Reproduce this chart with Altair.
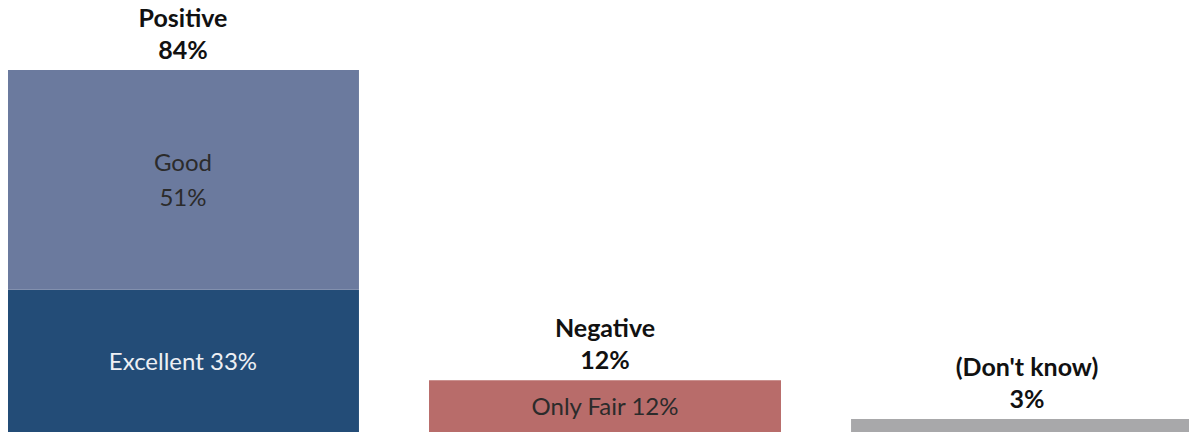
import altair as alt
import pandas as pd

categories = ["Positive", "Negative", "(Don't know)"]
totals = [84, 12, 3]
top_names = ["Positive", "Negative", "(Don't know)"]
top_pcts = ["84%", "12%", "3%"]

seg_group = ["Positive", "Positive", "Negative", "(Don't know)"]
seg_name = ["Excellent", "Good", "Only Fair", "Don't know"]
seg_value = [33, 51, 12, 3]
seg_label = ["Excellent 33%", "Good\n51%", "Only Fair 12%", ""]
seg_color = ["#234c77", "#6b7a9e", "#b86c6a", "#a8a8aa"]
seg_text_color = ["#eef0f4", "#2b2b2b", "#2b2b2b", "#2b2b2b"]

rows = []
lines = []
base = {}
for g, n, v, l in zip(seg_group, seg_name, seg_value, seg_label):
    y0 = base.get(g, 0)
    mid = y0 + v / 2
    rows.append({"group": g, "name": n, "value": v, "y0": y0, "y1": y0 + v})
    parts = [p for p in l.split("\n") if p]
    for i, p in enumerate(parts):
        k = i - (len(parts) - 1) / 2
        lines.append({"group": g, "name": n, "text": p, "mid": mid, "k": k})
    base[g] = y0 + v
seg = pd.DataFrame(rows)
seg_lines = pd.DataFrame(lines)
tops = pd.DataFrame({"group": categories, "total": totals, "name": top_names, "pct": top_pcts})

FONT = "Lato"
LH = 35
x = alt.X("group:N", sort=categories, axis=None,
          scale=alt.Scale(paddingInner=0.166, paddingOuter=0, range=[-1, 1195], round=False))
yscale = alt.Scale(domain=[0, 97.0], nice=False, zero=True)

bars = alt.Chart(seg).mark_bar().encode(
    x=x,
    y=alt.Y("y0:Q", scale=yscale, axis=None),
    y2="y1:Q",
    color=alt.Color("name:N", scale=alt.Scale(domain=seg_name, range=seg_color), legend=None),
)

def inner_layer(kval):
    return alt.Chart(seg_lines).transform_filter(alt.datum.k == kval).mark_text(
        font=FONT, fontSize=24, baseline="middle", align="center", dy=kval * LH + 2
    ).encode(
        x=x,
        y=alt.Y("mid:Q", scale=yscale, axis=None),
        text="text:N",
        color=alt.Color("name:N", scale=alt.Scale(domain=seg_name, range=seg_text_color), legend=None),
    )

inner = [inner_layer(k) for k in (-0.5, 0, 0.5)]

top_name = alt.Chart(tops).mark_text(font=FONT, fontSize=25, fontWeight="bold",
                                     baseline="alphabetic", align="center", dy=-43,
                                     color="#111111").encode(
    x=x, y=alt.Y("total:Q", scale=yscale, axis=None), text="name:N")
top_pct = alt.Chart(tops).mark_text(font=FONT, fontSize=25, fontWeight="bold",
                                    baseline="alphabetic", align="center", dy=-11,
                                    color="#111111").encode(
    x=x, y=alt.Y("total:Q", scale=yscale, axis=None), text="pct:N")

chart = alt.layer(bars, *inner, top_name, top_pct).resolve_scale(color="independent").properties(
    width=1181, height=418, padding={"top": 6, "left": 0, "right": 0, "bottom": 0},
    autosize=alt.AutoSizeParams(type="none")
).configure_view(stroke=None)

chart.save("out.html", embed_options={"renderer": "svg", "actions": False})
